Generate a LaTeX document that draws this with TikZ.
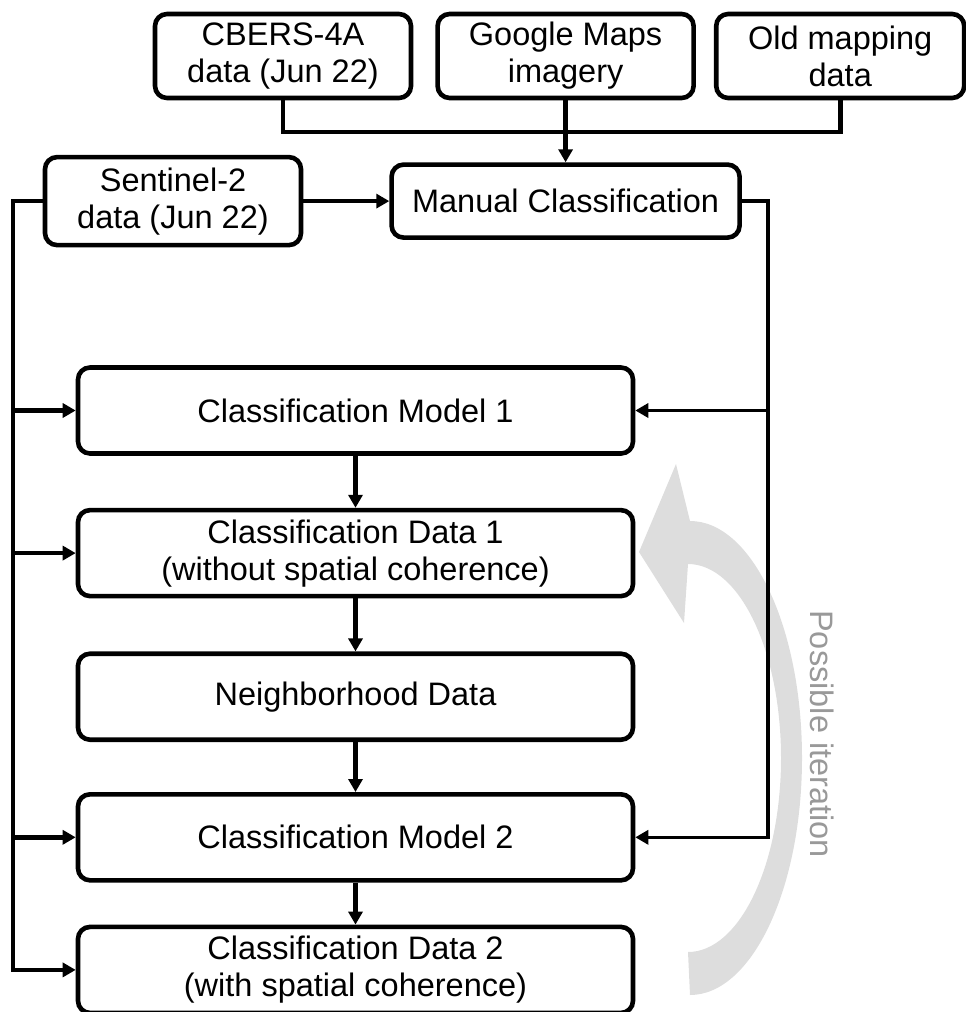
\documentclass[tikz,border=0pt]{standalone}
\usepackage{fontspec}
\setmainfont{Liberation Sans}
\usepackage{xcolor}
\usetikzlibrary{arrows.meta,positioning}
\definecolor{iterfill}{RGB}{221,221,221}
\definecolor{itertext}{RGB}{153,153,153}

\begin{document}
\begin{tikzpicture}[x=1pt, y=-1pt,
  box/.style={draw, rounded corners=12pt, line width=4.6pt, align=center,
              inner sep=0pt, font=\fontsize{32.5}{37}\selectfont},
  srcbox/.style={box, minimum width=256pt, minimum height=84pt},
  colbox/.style={box, minimum width=555pt, minimum height=86pt},
  bus/.style={line width=4.6pt},
  arr/.style={-{Triangle[length=13pt,width=14pt]}, line width=4.6pt},
  thinarr/.style={-{Triangle[length=13pt,width=14pt]}, line width=3.6pt}]
\useasboundingbox (0,0) rectangle (966,1012);
% loop-back arrow behind the column
\fill[iterfill] (690,995) arc[start angle=90, end angle=-90, x radius=112, y radius=237]
  -- (676,464) -- (639,552) -- (684,623) -- (688,564)
  arc[start angle=-90, end angle=90, x radius=93, y radius=194] -- cycle;
\node[rotate=-90, text=itertext, inner sep=0pt,
      font=\fontsize{32.5}{37}\selectfont] (iter) at (822,734) {Possible iteration};
% sources
\node[srcbox] (cbers) at (283,56) {CBERS-4A\\data (Jun 22)};
\node[srcbox, right=22pt of cbers] (google) {Google Maps\\imagery};
\node[srcbox, minimum width=248pt, right=18pt of google] (old) {Old mapping\\data};
\node[box, minimum width=348pt, minimum height=73pt, below=62pt of google] (manual)
  {Manual Classification};
\node[srcbox, minimum height=88pt, left=86pt of manual] (sent) {Sentinel-2\\data (Jun 22)};
% main column
\node[colbox] (cm1) at (355.5,410.5) {Classification Model 1};
\node[colbox, below=52pt of cm1] (cd1) {Classification Data 1\\(without spatial coherence)};
\node[colbox, below=53pt of cd1] (nd) {Neighborhood Data};
\node[colbox, below=50pt of nd] (cm2) {Classification Model 2};
\node[colbox, below=42pt of cm2] (cd2) {Classification Data 2\\(with spatial coherence)};
% connectors
\coordinate (topbus) at (565,132);
\coordinate (lbus) at (13,0);
\coordinate (rbus) at (768,0);
\draw[bus] (cbers.south) |- (topbus) -| (old.south);
\draw[arr] (google.south) -- (manual.north);
\draw[arr] (sent) -- (manual);
\draw[arr] (sent.west) -- (sent.west -| lbus) |- (cd2.west);
\foreach \n in {cm1,cd1,cm2}
  \draw[arr] (lbus |- \n.west) -- (\n.west);
\draw[thinarr] (manual.east) -- (manual.east -| rbus) |- (cm2.east);
\draw[thinarr] (rbus |- cm1.east) -- (cm1.east);
\foreach \a/\b in {cm1/cd1, cd1/nd, nd/cm2, cm2/cd2}
  \draw[arr] (\a) -- (\b);
\end{tikzpicture}
\end{document}
